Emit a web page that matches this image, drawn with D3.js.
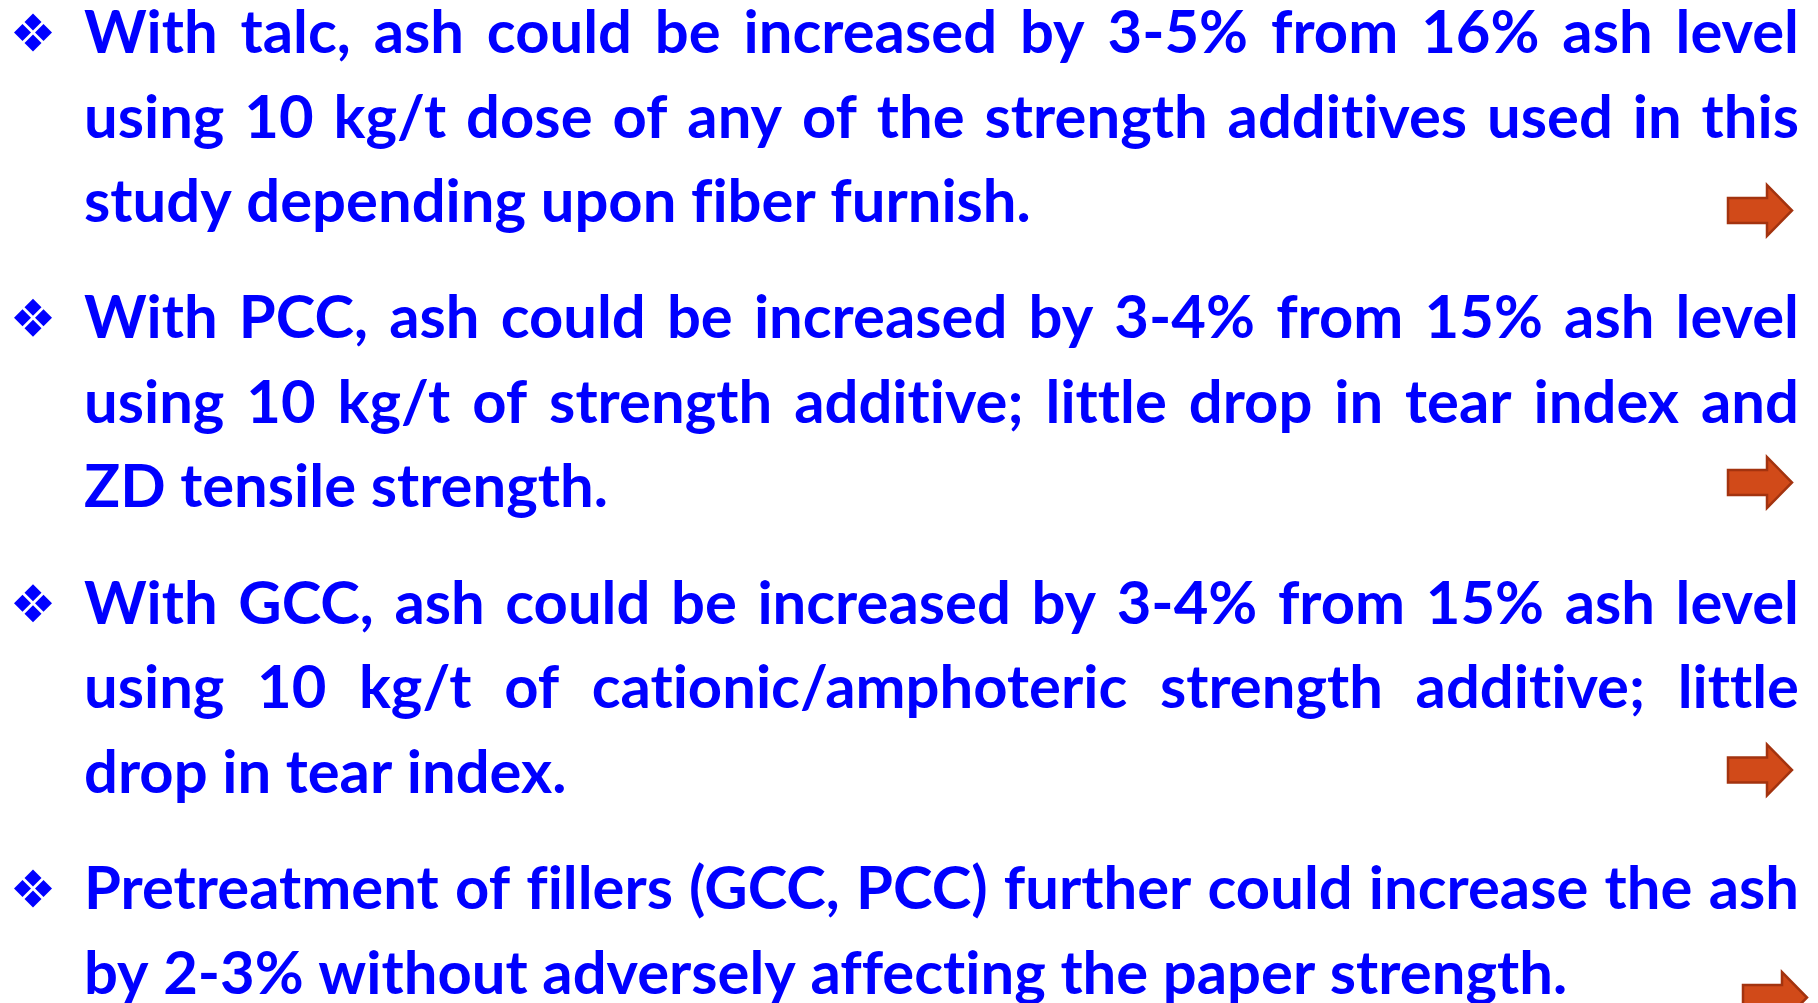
<!DOCTYPE html>
<html>
<head>
<meta charset="utf-8">
<script src="https://cdn.jsdelivr.net/npm/d3@7"></script>
<style>
  html, body { margin: 0; padding: 0; background: #fff; }
  svg { display: block; }
  text { font-family: Lato, "Open Sans", sans-serif; font-weight: 700; fill: #0000ff;
         font-variant-ligatures: none; font-feature-settings: "liga" 0, "clig" 0; }
</style>
</head>
<body>
<svg id="slide" width="1818" height="1003"></svg>
<script>
// bullet points, one array of lines per bullet (line breaks as on the slide)
var talcLines = [
    "With talc, ash could be increased by 3-5% from 16% ash level",
    "using 10 kg/t dose of any of the strength additives used in this",
    "study depending upon fiber furnish."
];
var pccLines = [
    "With PCC, ash could be increased by 3-4% from 15% ash level",
    "using 10 kg/t of strength additive; little drop in tear index and",
    "ZD tensile strength."
];
var gccLines = [
    "With GCC, ash could be increased by 3-4% from 15% ash level",
    "using 10 kg/t of cationic/amphoteric strength additive; little",
    "drop in tear index."
];
var pretreatLines = [
    "Pretreatment of fillers (GCC, PCC) further could increase the ash",
    "by 2-3% without adversely affecting the paper strength."
];
var bullets = [talcLines, pccLines, gccLines, pretreatLines];

var svg = d3.select("#slide"),
    textLeft = 84,
    textRight = 1799,
    fontSize = 60,
    lineHeight = 84.5;

// baseline of the first line of each bullet
var y = d3.scaleLinear()
    .domain([0, bullets.length - 1])
    .range([53, 909]);

// where the last line of a bullet ends on the slide (used to fit the font width)
var lastLineEnds = [1033, 599, 572, 1559];

// arrows: tip x and centre y
var arrows = [
    {x: 1792, y: 210.5},
    {x: 1792, y: 482.5},
    {x: 1792, y: 770},
    {x: 1807, y: 997.5}
];

var measure = svg.append("text")
    .attr("font-size", fontSize)
    .attr("x", -5000).attr("y", -5000);

function textWidth(s) {
    measure.text(s);
    return measure.node().getComputedTextLength();
}

// horizontal squeeze so the substitute font matches the slide's width
var natural = 0, target = 0;
bullets.forEach(function(lines, i) {
    natural += textWidth(lines[lines.length - 1]);
    target += lastLineEnds[i] - textLeft;
});
var sx = target / natural;
var spaceW = textWidth("a a") - textWidth("aa");

var g = svg.append("g");

bullets.forEach(function(lines, i) {
    var base = y(i);

    // bullet glyph: four small diamonds
    var cx = 33, cy = base - 20.5, o = 10.5, h = 8.5;
    var bullet = g.append("g").attr("transform", "translate(" + cx + "," + cy + ")");
    [[0, -o], [-o, 0], [o, 0], [0, o]].forEach(function(p) {
        bullet.append("path")
            .attr("d", "M" + p[0] + "," + (p[1] - h) + "L" + (p[0] + h) + "," + p[1] +
                "L" + p[0] + "," + (p[1] + h) + "L" + (p[0] - h) + "," + p[1] + "Z")
            .attr("fill", "#0000ff");
    });

    lines.forEach(function(line, j) {
        var words = line.split(" ");
        var widths = words.map(function(w) { return textWidth(w); });
        var total = d3.sum(widths);
        var last = j === lines.length - 1;
        // justified lines fill the full width, the last one is left aligned
        var gap = last ? spaceW : ((textRight - textLeft) / sx - total) / (words.length - 1);

        var lineG = g.append("g")
            .attr("transform", "translate(" + textLeft + "," + (base + j * lineHeight) + ") scale(" + sx + ",1)");
        var xPos = 0;
        words.forEach(function(w, k) {
            lineG.append("text")
                .attr("x", xPos)
                .attr("y", 0)
                .attr("font-size", fontSize)
                .text(w);
            xPos += widths[k] + gap;
        });
    });
});
measure.remove();

// orange block arrows at the right edge
var arrowPath = "M-64,-12.5L-25,-12.5L-25,-25.5L0,0L-25,25.5L-25,12.5L-64,12.5Z";
g.selectAll(".arrow")
    .data(arrows)
    .enter().append("path")
    .attr("class", "arrow")
    .attr("transform", function(d) { return "translate(" + d.x + "," + d.y + ")"; })
    .attr("d", arrowPath)
    .attr("fill", "#d14a19")
    .attr("stroke", "#a3330f")
    .attr("stroke-width", 2.5)
    .attr("stroke-linejoin", "miter");
</script>
</body>
</html>
